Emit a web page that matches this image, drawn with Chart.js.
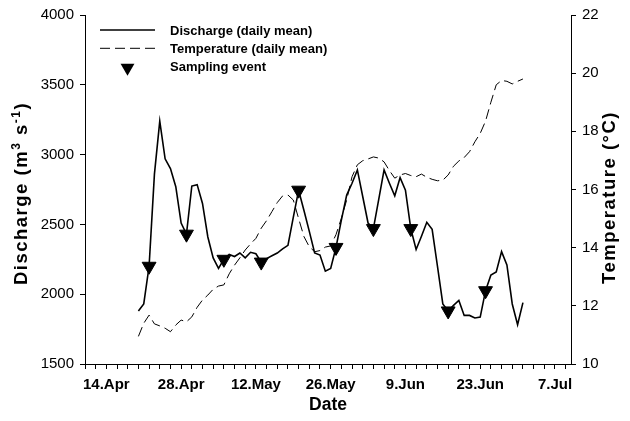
<!DOCTYPE html>
<html>
<head>
<meta charset="utf-8">
<script src="https://cdn.jsdelivr.net/npm/chart.js@4.4.1/dist/chart.umd.min.js"></script>
<style>
html, body { margin: 0; padding: 0; background: #fff; }
</style>
</head>
<body>
<canvas id="flow" width="630" height="421"></canvas>
<script>
// x axis counts days from 10.Apr (day 0) to 10.Jul (day 91)
const firstDay = 10; // both series start on 20.Apr

// daily mean discharge, m3/s
const discharge = [
    1880, 1930, 2200, 2860, 3240, 2970, 2900, 2770, 2510, 2430,
    2775, 2785, 2650, 2410, 2260, 2185, 2250, 2285, 2270, 2295,
    2260, 2300, 2290, 2230, 2255, 2275, 2295, 2325, 2350, 2550,
    2745, 2600, 2450, 2295, 2280, 2165, 2185, 2335, 2530, 2710,
    2795, 2890, 2700, 2510, 2470, 2680, 2890, 2795, 2705, 2835,
    2745, 2470, 2320, 2415, 2515, 2465, 2200, 1930, 1880, 1920,
    1955, 1848, 1848, 1830, 1836, 2025, 2137, 2160, 2305, 2210,
    1930, 1782, 1940
];

// daily mean water temperature, °C
const temperature = [
    10.95, 11.40, 11.68, 11.38, 11.31, 11.23, 11.11, 11.34, 11.51, 11.45,
    11.62, 11.95, 12.20, 12.37, 12.57, 12.68, 12.72, 13.10, 13.40, 13.65,
    13.92, 14.13, 14.32, 14.67, 14.93, 15.24, 15.55, 15.78, 15.81, 15.64,
    15.00, 14.38, 14.03, 13.86, 13.90, 14.02, 14.06, 14.45, 15.01, 15.64,
    16.44, 16.85, 16.99, 17.05, 17.12, 17.08, 16.95, 16.65, 16.39, 16.50,
    16.55, 16.48, 16.44, 16.53, 16.42, 16.35, 16.30, 16.32, 16.50, 16.80,
    16.98, 17.10, 17.30, 17.64, 17.93, 18.35, 19.00, 19.60, 19.75, 19.72,
    19.63, 19.72, 19.80
];

// weekly sampling days
const samplingDays = [12, 19, 26, 33, 40, 47, 54, 61, 68, 75];

const dateLabels = ['14.Apr', '28.Apr', '12.May', '26.May', '9.Jun', '23.Jun', '7.Jul'];
const dateLabelDays = [4, 18, 32, 46, 60, 74, 88];

const FONT = '"Liberation Sans", Arial, Helvetica, sans-serif';
Chart.defaults.font.family = FONT;
Chart.defaults.color = '#000';

function toPoints(values){
    return values.map((v, i) => ({x: firstDay + i, y: v}));
}

const samplingPoints = samplingDays.map(d => ({x: d, y: discharge[d - firstDay]}));

// draws [text, isSuperscript] pieces along a baseline, centred on 0
function drawPieces(ctx, pieces){
    const big = 'bold 18.5px ' + FONT, small = 'bold 12px ' + FONT;
    let total = 0;
    pieces.forEach(p => { ctx.font = p[1] ? small : big; total += ctx.measureText(p[0]).width; });
    let x = -total / 2;
    pieces.forEach(p => {
        ctx.font = p[1] ? small : big;
        ctx.fillText(p[0], x, p[1] ? -7 : 0);
        x += ctx.measureText(p[0]).width;
    });
}

// vertical axis titles and the legend box inside the plot
const extras = {
    id: 'extras',
    afterDraw(chart){
        const {ctx, chartArea} = chart;
        const midY = (chartArea.top + chartArea.bottom) / 2;
        ctx.save();
        ctx.fillStyle = '#000';
        ctx.textAlign = 'left';
        ctx.textBaseline = 'alphabetic';
        ctx.letterSpacing = '1.5px';
        ctx.translate(27, midY + 4);
        ctx.rotate(-Math.PI / 2);
        drawPieces(ctx, [['Discharge (m', false], ['3', true], [' s', false], ['-1', true], [')', false]]);
        ctx.restore();

        ctx.save();
        ctx.fillStyle = '#000';
        ctx.textAlign = 'left';
        ctx.letterSpacing = '1.5px';
        ctx.translate(615, midY + 8);
        ctx.rotate(-Math.PI / 2);
        drawPieces(ctx, [['Temperature (°C)', false]]);
        ctx.restore();

        const x0 = chartArea.left + 15;
        const x1 = chartArea.left + 70;
        const tx = chartArea.left + 85;
        const rows = [chartArea.top + 15, chartArea.top + 33.3, chartArea.top + 51.7];
        ctx.save();
        ctx.strokeStyle = '#000';
        ctx.fillStyle = '#000';
        ctx.font = 'bold 13px ' + FONT;
        ctx.textBaseline = 'middle';
        chart.data.datasets.forEach((ds, i) => {
            const y = rows[i];
            if(ds.showLine === false){
                const cx = (x0 + x1) / 2, r = 8, cy = y + 1;
                ctx.beginPath();
                ctx.moveTo(cx, cy + r);
                ctx.lineTo(cx - r * Math.sin(Math.PI / 3), cy - r / 2);
                ctx.lineTo(cx + r * Math.sin(Math.PI / 3), cy - r / 2);
                ctx.closePath();
                ctx.fill();
            }else{
                ctx.lineWidth = ds.borderWidth;
                ctx.setLineDash(ds.borderDash || []);
                ctx.beginPath();
                ctx.moveTo(x0, y);
                ctx.lineTo(x1, y);
                ctx.stroke();
                ctx.setLineDash([]);
            }
            ctx.fillText(ds.label, tx, y + 1);
        });
        ctx.restore();
    }
};

const axisFont = {size: 15};
const plain = v => String(v);

new Chart(document.getElementById('flow'), {
    type: 'line',
    data: {
        datasets: [
            {
                label: 'Discharge (daily mean)',
                data: toPoints(discharge),
                yAxisID: 'y',
                borderColor: '#000',
                borderWidth: 1.6,
                pointRadius: 0,
                tension: 0,
                order: 1
            },
            {
                label: 'Temperature (daily mean)',
                data: toPoints(temperature),
                yAxisID: 'y1',
                borderColor: '#000',
                borderWidth: 1,
                borderDash: [10, 5],
                pointRadius: 0,
                tension: 0,
                order: 2
            },
            {
                label: 'Sampling event',
                data: samplingPoints,
                yAxisID: 'y',
                showLine: false,
                pointStyle: 'triangle',
                rotation: 180,
                pointRadius: 8,
                pointBackgroundColor: '#000',
                pointBorderColor: '#000',
                pointBorderWidth: 1,
                order: 0
            }
        ]
    },
    options: {
        responsive: false,
        animation: false,
        layout: {padding: {top: 15}},
        plugins: {legend: {display: false}, tooltip: {enabled: false}},
        scales: {
            x: {
                type: 'linear',
                min: 0,
                max: 91,
                afterFit(s){ s.height = 57; },
                afterBuildTicks(s){
                    const t = [];
                    for(let d = 0; d <= 90; d += 2) t.push({value: d});
                    s.ticks = t;
                },
                ticks: {
                    autoSkip: false,
                    maxRotation: 0,
                    padding: 7,
                    font: {size: 15, weight: 'bold'},
                    callback(v){
                        const i = dateLabelDays.indexOf(v);
                        return i < 0 ? '' : dateLabels[i];
                    }
                },
                grid: {drawOnChartArea: false, tickLength: 5, color: '#000'},
                border: {color: '#000', width: 1},
                title: {display: true, text: 'Date', font: {size: 17.5, weight: 'bold'}, padding: {top: 0, bottom: 5}}
            },
            y: {
                position: 'left',
                min: 1500,
                max: 4000,
                afterFit(s){ s.width = 85; },
                ticks: {stepSize: 500, padding: 6, font: axisFont, callback: plain},
                grid: {drawOnChartArea: false, tickLength: 5, color: '#000'},
                border: {color: '#000', width: 1}
            },
            y1: {
                position: 'right',
                min: 10,
                max: 22,
                afterFit(s){ s.width = 59; },
                ticks: {stepSize: 2, padding: 6, font: axisFont, callback: plain},
                grid: {drawOnChartArea: false, tickLength: 5, color: '#000'},
                border: {color: '#000', width: 1}
            }
        }
    },
    plugins: [extras]
});
</script>
</body>
</html>
